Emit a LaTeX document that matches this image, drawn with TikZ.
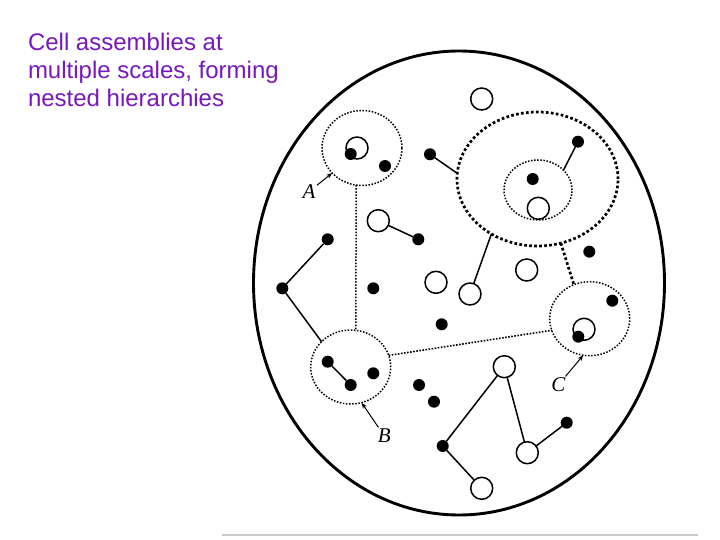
\documentclass[tikz,border=0pt]{standalone}
\usepackage{fontspec}
\setmainfont{Liberation Sans}
\newfontfamily\labelfont{Liberation Serif}
\usetikzlibrary{shapes.geometric,arrows.meta}
\definecolor{titlepurple}{RGB}{118,24,190}

\begin{document}
\begin{tikzpicture}[x=1pt,y=-1pt,
  every node/.style={inner sep=0,outer sep=0},
  spike/.style={circle,fill,minimum size=12pt},
  ring/.style={circle,draw,line width=1.5pt,minimum size=22pt},
  asm/.style={ellipse,draw,line width=1.5pt,dash pattern=on 1.5pt off 1.6pt},
  bigasm/.style={ellipse,draw,line width=2.7pt,dash pattern=on 2.7pt off 2.3pt},
  link/.style={line width=1.5pt},
  tag/.style={font=\labelfont\itshape\fontsize{21}{24}\selectfont},
  pointer/.style={line width=1pt,-{Stealth[length=6pt,width=4.5pt]},shorten <=2pt}]
  \useasboundingbox (0,0) rectangle (720,540);

  \node[anchor=north west,align=left,text=titlepurple,
    font=\fontsize{24}{28}\selectfont] (title) at (28,33.5)
    {Cell assemblies at\\multiple scales, forming\\nested hierarchies};

  %% Outer network.
  \draw[line width=2.9pt] (459,283) ellipse [x radius=205.5pt, y radius=232pt];
  \draw[gray!40,line width=1.2pt] (222,535) -- (698,535);

  %% Assemblies.
  \node[asm,minimum width=80pt,minimum height=75pt] (A) at (362,148) {};
  \node[asm,minimum width=80pt,minimum height=74pt] (B) at (350.7,367) {};
  \node[asm,minimum width=80pt,minimum height=74pt] (C) at (589.7,318.7) {};
  \node[bigasm,minimum width=161pt,minimum height=134pt] (D) at (537.5,179) {};
  \node[asm,minimum width=68pt,minimum height=60pt] (E) at (538,190) {};

  %% Open cells.
  \node[ring] (O1) at (481.7,99) {};
  \node[ring] (O2) at (357,148) {};
  \node[ring] (O3) at (538.3,208.3) {};
  \node[ring] (O4) at (378.3,220.7) {};
  \node[ring] (O5) at (436,282.3) {};
  \node[ring] (O6) at (470,294) {};
  \node[ring] (O7) at (526.7,270) {};
  \node[ring] (O8) at (584,329.3) {};
  \node[ring] (O9) at (504.3,366.7) {};
  \node[ring] (O10) at (527.3,452.7) {};
  \node[ring] (O11) at (481.7,488.3) {};

  %% Filled cells.
  \node[spike] (F1) at (350.7,154) {};
  \node[spike] (F2) at (385,166) {};
  \node[spike] (F3) at (430,154.3) {};
  \node[spike] (F4) at (532.7,179) {};
  \node[spike] (F5) at (578,141.7) {};
  \node[spike] (F6) at (418.3,239.3) {};
  \node[spike] (F7) at (327.7,239.3) {};
  \node[spike] (F8) at (282.3,288.3) {};
  \node[spike] (F9) at (373.3,288.3) {};
  \node[spike] (F10) at (589.3,251.7) {};
  \node[spike] (F11) at (612.3,300.7) {};
  \node[spike] (F12) at (578.3,336.7) {};
  \node[spike] (F13) at (441.7,324.3) {};
  \node[spike] (F14) at (327.7,361.7) {};
  \node[spike] (F15) at (350.7,385) {};
  \node[spike] (F16) at (373.3,373.3) {};
  \node[spike] (F17) at (419,385) {};
  \node[spike] (F18) at (434,401.7) {};
  \node[spike] (F19) at (442.7,446) {};
  \node[spike] (F20) at (566.7,422.7) {};

  %% Labels.
  \node[tag] (LA) at (309,191.7) {A};
  \node[tag] (LB) at (384.3,436) {B};
  \node[tag] (LC) at (558.3,385) {C};

  \draw[link] (F3) -- (D.176);
  \draw[link] (F5) -- (E.38);
  \draw[link] (O4) -- (F6);
  \draw[link] (F7) -- (F8) -- (B.139);
  \draw[link] (D.230) -- (O6);
  \draw[link] (F14) -- (F15);
  \draw[link] (O9) -- (F19) -- (O11);
  \draw[link] (O9) -- (O10) -- (F20);

  \draw[line width=1.5pt,dash pattern=on 1.5pt off 1.6pt] (A.261) -- (B.82);
  \draw[line width=1.6pt,dash pattern=on 1.6pt off 1.5pt] (B.17) -- (C.197);
  \draw[line width=2.7pt,dash pattern=on 2.7pt off 2.3pt] (D.290) -- (C.115);

  \draw[pointer] (LA) -- (A.220);
  \draw[pointer] (LB) -- (B.287);
  \draw[pointer] (LC) -- (C.260);
\end{tikzpicture}
\end{document}
